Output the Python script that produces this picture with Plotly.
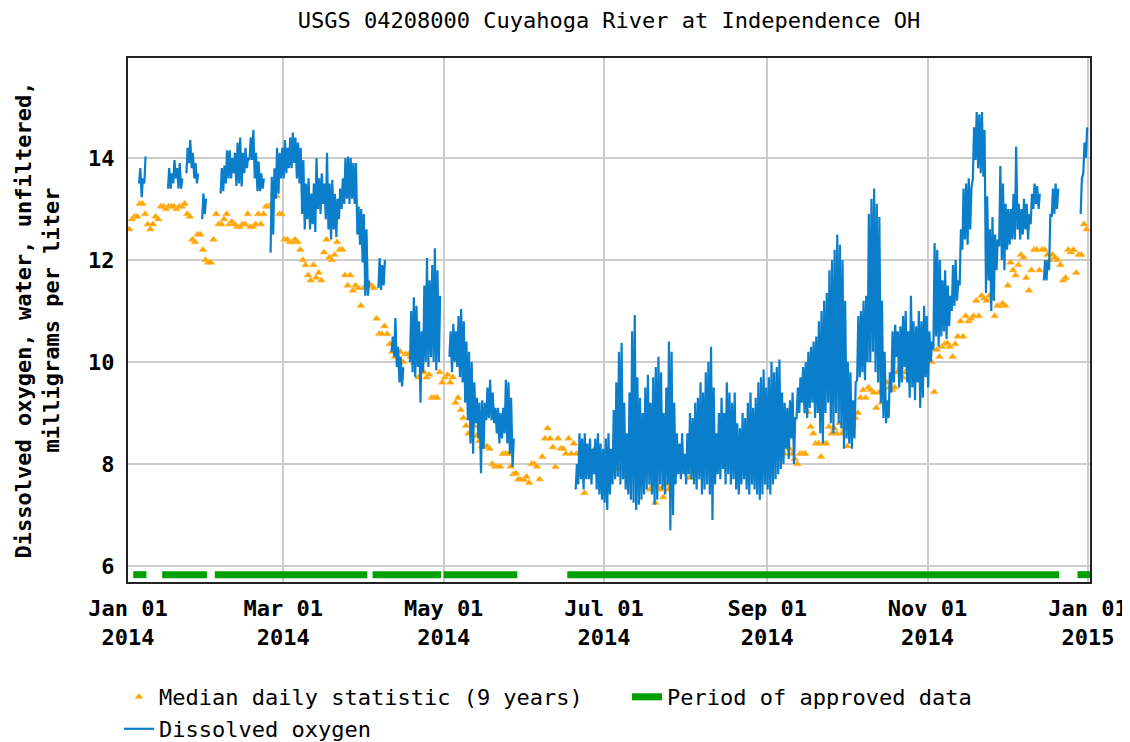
import pandas as pd
import plotly.graph_objects as go

N = None
# ---------------- data ----------------
start_date = "2014-01-01"

# Median daily statistic (9 years), one value per day of 2014
median_daily = [
    12.6, 12.8, 12.85, 12.85, 13.1, 13.1, 12.9, 12.7, 12.6, 12.7,
    12.85, 12.8, 13.05, 13.05, 13.0, 13.05, 13.05, 13.05, 13.0, 13.05,
    13.05, 13.1, 12.9, 12.85, 12.4, 12.35, 12.5, 12.5, 12.2, 12.0,
    11.95, 11.95, 12.4, 12.9, 12.7, 12.7, 12.8, 12.9, 12.7, 12.75,
    12.7, 12.65, 12.65, 12.7, 12.7, 12.9, 12.65, 12.65, 12.7, 12.9,
    12.7, 12.9, 13.05, 13.05, 13.1, 13.3, 13.25, 12.9, 12.9, 12.4,
    12.4, 12.35, 12.35, 12.4, 12.35, 12.2, 12.0, 11.9, 11.7, 11.6,
    11.9, 11.65, 11.75, 11.6, 12.15, 12.4, 12.05, 12.0, 12.1, 12.35,
    12.2, 12.2, 11.7, 11.5, 11.7, 11.4, 11.5, 11.45, 11.1, 11.45,
    11.5, 11.5, 11.5, 11.45, 10.85, 10.55, 10.55, 10.7, 10.55, 10.35,
    10.2, 10.1, 10.1, 10.2, 10.0, 10.15, 10.15, 10.1, 10.0, 10.05,
    9.7, 10.0, 9.8, 9.7, 9.75, 9.3, 9.3, 9.3, 9.8, 9.6,
    9.7, 9.75, 9.6, 9.7, 9.2, 9.3, 9.06, 8.9, 8.75, 8.6,
    8.9, 8.75, 8.55, 8.45, 8.35, 8.33, 8.35, 8.3, 8.0, 7.95,
    7.95, 7.95, 8.2, 8.2, 8.2, 7.95, 7.8, 7.82, 7.7, 7.69,
    7.69, 7.75, 7.63, 8.0, 8.0, 7.95, 7.7, 8.14, 8.5, 8.7,
    8.5, 8.33, 7.94, 8.5, 8.3, 8.3, 8.2, 8.5, 8.2, 8.4,
    8.2, 8.2, 8.2, 7.43, 8.2, 8.2, 8.1, 8.3, 8.2, 7.94,
    8.2, 8.0, 8.2, 8.2, 8.1, 8.0, 7.9, 7.95, 7.82, 7.75,
    7.69, 7.8, 7.75, 7.9, 8.0, 7.95, 8.0, 7.9, 7.5, 7.6,
    7.24, 7.55, 7.5, 7.35, 7.6, 7.5, 7.7, 7.8, 7.95, 7.94,
    8.0, 7.94, 7.9, 7.73, 7.85, 7.9, 8.0, 8.1, 8.0, 8.1,
    8.2, 8.1, 8.3, 8.4, 8.25, 8.12, 8.2, 8.3, 8.2, 8.1,
    8.0, 8.1, 7.95, 8.0, 8.1, 8.2, 8.3, 8.2, 8.3, 8.2,
    8.3, 8.2, 8.35, 8.3, 8.4, 8.3, 8.2, 8.1, 8.3, 8.2,
    8.4, 8.3, 8.2, 8.1, 8.0, 8.2, 8.2, 8.2, 9.02, 8.73,
    8.6, 8.4, 8.4, 8.14, 8.4, 8.4, 8.73, 8.6, 8.7, 8.6,
    8.8, 8.6, 8.7, 8.35, 8.6, 8.8, 8.9, 9.0, 9.3, 9.45,
    9.3, 9.5, 9.45, 9.4, 9.1, 9.4, 9.2, 9.5, 9.6, 9.5,
    9.45, 9.5, 9.8, 9.9, 9.7, 9.8, 9.85, 9.75, 9.8, 9.9,
    10.1, 10.0, 9.9, 10.1, 10.15, 10.0, 9.41, 10.24, 10.1, 10.3,
    10.35, 10.37, 10.3, 10.1, 10.35, 10.5, 10.8, 10.5, 10.9, 10.8,
    10.85, 10.9, 11.2, 10.9, 11.3, 11.25, 11.2, 11.3, 11.25, 10.9,
    11.1, 11.1, 11.15, 11.1, 11.5, 11.95, 11.8, 11.7, 11.9, 12.1,
    12.05, 11.65, 11.4, 11.8, 12.2, 12.2, 11.8, 12.2, 12.2, 12.1,
    12.0, 12.1, 12.05, 12.0, 11.9, 11.6, 11.65, 12.2, 12.15, 12.2,
    11.75, 12.1, 12.1, 12.7, 12.6,
]

# Dissolved oxygen: daily low / daily high of the 15-minute record (None = no data)
do_daily_min = [
    N, N, N, N, 13.5, 13.23, 13.5, N, N, N,
    N, N, N, N, N, 13.4, 13.4, 13.5, 13.6, 13.4,
    13.4, N, 13.7, 13.9, 13.8, 13.6, 13.5, N, 12.8, 12.9,
    N, N, N, N, N, 13.3, 13.35, 13.5, 13.6, 13.6,
    13.7, 13.45, 13.5, 13.44, 13.7, 13.8, 13.96, 13.96, 13.6, 13.35,
    13.35, 13.4, N, N, 12.14, 12.5, 13.2, 13.3, 13.6, 13.6,
    13.7, 13.8, 13.8, 13.9, 13.6, 13.5, 12.9, 12.6, 12.8, 12.6,
    12.7, 12.55, 13.0, 12.9, 13.1, 12.8, 12.6, 12.4, 12.6, 12.45,
    12.8, 13.0, 13.1, 13.2, 13.1, 13.2, 13.1, 12.5, 12.3, 11.95,
    11.3, 11.3, N, N, N, 11.45, 11.41, 11.5, N, N,
    10.2, 10.1, 9.9, 9.6, 9.52, N, N, 10.0, 9.8, 9.7,
    9.9, 9.2, 9.8, 10.0, 9.9, 10.1, 10.0, 9.84, 10.0, N,
    N, N, 10.1, 9.8, 10.0, 9.9, 9.7, 9.6, 9.2, 8.86,
    8.4, 8.2, 8.8, 8.5, 7.82, 8.3, 8.86, 8.9, 8.86, 8.8,
    8.6, 8.4, 8.5, 8.6, 8.4, 8.2, 7.94, N, N, N,
    N, N, N, N, N, N, N, N, N, N,
    N, N, N, N, N, N, N, N, N, N,
    7.5, 7.6, 7.7, 7.5, 7.7, 7.7, 7.6, 7.8, 7.5, 7.4,
    7.3, 7.24, 7.1, 7.4, 7.6, 7.7, 7.75, 7.6, 7.7, 7.5,
    7.4, 7.3, 7.24, 7.1, 7.2, 7.3, 7.4, 7.5, 7.6, 7.4,
    7.2, 7.3, 7.6, 7.5, 7.4, 7.6, 6.7, 7.0, 7.6, 7.8,
    7.7, 7.8, 7.6, 7.8, 7.7, 7.6, 7.5, 7.7, 7.4, 7.5,
    7.6, 7.4, 6.9, 7.6, 7.8, 7.7, 7.9, 7.6, 7.8, 7.6,
    7.7, 7.5, 7.4, 7.6, 7.7, 7.5, 7.4, 7.6, 7.5, 7.4,
    7.3, 7.4, 7.6, 7.5, 7.4, 7.6, 7.7, 7.8, 7.9, 8.0,
    8.3, 8.1, 8.5, 8.0, 8.9, 9.0, 9.2, 9.0, 8.9, 9.1,
    9.2, 8.9, 9.0, 8.6, 8.4, 9.0, 9.2, 8.8, 8.6, 9.0,
    8.8, 8.7, 8.3, 8.5, 8.4, 8.3, 8.5, 9.64, 9.7, 9.8,
    9.64, 10.0, 10.0, 10.2, 9.8, 9.6, 9.2, 8.9, 8.8, 8.9,
    9.4, 9.6, 10.1, 9.5, 9.6, 9.9, 9.6, 9.3, 9.5, 9.25,
    9.6, 9.1, 9.3, 9.7, 9.5, 10.0, 10.24, 10.5, 10.3, 10.5,
    10.6, 10.45, 10.7, 11.0, 11.1, 11.2, 11.5, 12.2, 12.4, 12.3,
    12.6, 13.6, 13.96, 13.8, 13.7, 13.63, 11.35, 11.6, 11.0, 11.2,
    11.8, 12.27, 12.0, 11.8, 12.2, 12.3, 12.4, 12.4, 12.6, 12.4,
    12.5, 12.6, 12.4, 12.7, 13.0, 13.1, 13.0, N, 11.6, 11.6,
    11.8, 12.85, 12.9, 13.0, N, N, N, N, N, N,
    N, N, 12.9, 13.7, 14.0,
]
do_daily_max = [
    N, N, N, N, 13.8, 13.6, 14.03, N, N, N,
    N, N, N, N, N, 13.8, 13.7, 13.96, 13.8, 13.9,
    13.6, N, 14.2, 14.35, 14.1, 13.9, 13.7, N, 13.3, 13.2,
    N, N, N, N, N, 13.8, 13.85, 14.15, 14.15, 14.0,
    14.1, 14.3, 14.4, 14.1, 14.2, 14.0, 14.4, 14.55, 14.1, 13.93,
    13.7, 13.6, N, N, 13.63, 13.8, 14.2, 14.1, 14.2, 14.35,
    14.2, 14.4, 14.5, 14.4, 14.3, 14.2, 13.96, 13.5, 13.6, 13.3,
    13.5, 14.0, 13.6, 13.7, 13.5, 14.1, 13.5, 13.57, 13.3, 13.2,
    13.4, 13.6, 14.0, 14.03, 14.0, 13.9, 13.9, 13.05, 13.0, 12.9,
    12.6, 11.6, N, N, N, 12.04, 11.9, 12.0, N, N,
    10.5, 10.86, 10.3, 10.1, 9.9, N, N, 11.0, 11.27, 11.1,
    10.8, 10.6, 11.5, 12.04, 11.6, 11.9, 12.23, 11.8, 11.3, N,
    N, N, 10.6, 10.75, 10.6, 10.9, 11.04, 10.8, 10.4, 10.2,
    10.0, 9.6, 9.3, 9.2, 9.25, 9.2, 9.5, 9.65, 9.4, 9.1,
    9.1, 9.0, 9.1, 9.65, 9.6, 9.3, 8.5, N, N, N,
    N, N, N, N, N, N, N, N, N, N,
    N, N, N, N, N, N, N, N, N, N,
    8.0, 8.6, 8.5, 8.6, 8.4, 8.5, 8.3, 8.5, 8.6, 8.4,
    8.3, 8.5, 8.6, 8.3, 9.06, 9.6, 10.2, 10.37, 9.2, 8.6,
    9.4, 10.6, 10.92, 9.7, 9.3, 9.0, 9.5, 9.75, 9.2, 9.7,
    9.9, 10.1, 9.8, 9.0, 9.5, 10.4, 10.2, 9.2, 8.6, 8.4,
    8.6, 8.2, 8.6, 9.0, 8.9, 9.2, 9.3, 9.6, 9.4, 9.8,
    10.0, 10.3, 9.5, 8.6, 9.0, 9.3, 9.0, 9.6, 9.4, 9.2,
    9.4, 8.8, 8.7, 9.0, 8.9, 9.2, 9.4, 9.1, 9.3, 9.6,
    9.7, 9.85, 9.5, 9.7, 10.0, 9.8, 9.9, 10.05, 9.4, 9.2,
    9.1, 9.25, 9.4, 8.9, 9.5, 9.7, 9.9, 10.0, 10.2, 10.3,
    10.4, 10.5, 10.8, 11.0, 11.2, 11.35, 11.8, 12.0, 12.2, 12.5,
    12.3, 12.0, 11.2, 10.0, 9.8, 9.25, 9.6, 10.9, 11.0, 11.2,
    11.3, 12.9, 13.2, 13.4, 13.1, 12.84, 11.2, 10.2, 9.25, 9.8,
    10.6, 10.73, 10.6, 10.7, 10.9, 11.0, 10.6, 11.3, 10.8, 10.7,
    11.0, 10.8, 11.1, 10.9, 10.6, 10.4, 12.33, 12.2, 12.0, 11.6,
    11.8, 11.5, 11.3, 11.9, 12.0, 11.6, 12.6, 13.4, 13.5, 13.6,
    13.4, 14.6, 14.9, 14.85, 14.9, 14.55, 13.25, 12.6, 12.84, 12.5,
    12.4, 13.84, 13.5, 13.1, 13.0, 13.0, 13.3, 14.22, 13.1, 13.0,
    13.2, 13.1, 12.9, 13.3, 13.5, 13.45, 13.3, N, 12.0, 12.0,
    12.9, 13.4, 13.5, 13.4, N, N, N, N, N, N,
    N, N, 13.6, 14.3, 14.6,
]

# Period of approved data
approved_start = ["2014-01-03", "2014-01-14", "2014-02-03", "2014-04-04",
                  "2014-05-01", "2014-06-17", "2014-12-28"]
approved_end = ["2014-01-08", "2014-01-31", "2014-04-02", "2014-04-30",
                "2014-05-29", "2014-12-21", "2015-01-02"]
approved_level = 5.83

tick_dates = ["2014-01-01", "2014-03-01", "2014-05-01", "2014-07-01",
              "2014-09-01", "2014-11-01", "2015-01-01"]
tick_labels = ["Jan 01<br>2014", "Mar 01<br>2014", "May 01<br>2014", "Jul 01<br>2014",
               "Sep 01<br>2014", "Nov 01<br>2014", "Jan 01<br>2015"]
y_ticks = [6, 8, 10, 12, 14]

# ---------------- build traces ----------------
days = pd.date_range(start_date, periods=len(median_daily), freq="D")
med_x = [d + pd.Timedelta(hours=12) for d in days]

do_x, do_y = [], []
for d, lo, hi in zip(days, do_daily_min, do_daily_max):
    if lo is None or hi is None:
        do_x.append(d + pd.Timedelta(hours=12))
        do_y.append(None)
    else:
        do_x += [d + pd.Timedelta(hours=5), d + pd.Timedelta(hours=16)]
        do_y += [lo, hi]

ap_x, ap_y = [], []
for s, e in zip(approved_start, approved_end):
    ap_x += [pd.Timestamp(s), pd.Timestamp(e), pd.Timestamp(e)]
    ap_y += [approved_level, approved_level, None]

MONO = "DejaVu Sans Mono"
fig = go.Figure()
fig.add_trace(go.Scatter(
    x=med_x, y=median_daily, mode="markers", name="Median daily statistic (9 years)",
    marker=dict(symbol="triangle-up", size=7, color="#FFA200",
                line=dict(color="#FFC860", width=0.6)),
    legend="legend"))
fig.add_trace(go.Scatter(
    x=do_x, y=do_y, mode="lines", name="Dissolved oxygen",
    line=dict(color="#0A7DCB", width=2.2), legend="legend3", connectgaps=False))
fig.add_trace(go.Scatter(
    x=ap_x, y=ap_y, mode="lines", name="Period of approved data",
    line=dict(color="#00A000", width=7), legend="legend2"))

# The page adds an 8 px body margin; the figure fills the rest of the window.
OFF = 8
W, H = 1130 - OFF, 742 - OFF
L, T = 128 - OFF, 58 - OFF
R = W - (1090 - OFF)
B = H - (582 - OFF)
pw, ph = W - L - R, H - T - B

def px_x(p):
    return (p - OFF - L) / pw

def px_y(p):
    return (H - B - (p - OFF)) / ph

leg_common = dict(orientation="h", xanchor="left", yanchor="middle",
                  bgcolor="rgba(0,0,0,0)", borderwidth=0,
                  font=dict(family=MONO, size=22, color="#000"))

fig.update_layout(
    width=W, height=H,
    margin=dict(l=L, r=R, t=T, b=B, autoexpand=False),
    paper_bgcolor="white", plot_bgcolor="white",
    title=dict(text="USGS 04208000 Cuyahoga River at Independence OH",
               font=dict(family=MONO, size=22, color="#000"),
               x=0.5, xref="paper", xanchor="center",
               y=1 - (20 - OFF) / H, yref="container", yanchor="middle"),
    showlegend=True,
    legend=dict(x=px_x(119), y=px_y(697), **leg_common),
    legend2=dict(x=px_x(627), y=px_y(697), **leg_common),
    legend3=dict(x=px_x(119), y=px_y(729), **leg_common),
    xaxis=dict(
        type="date",
        range=["2014-01-01", "2015-01-01 18:00"],
        tickvals=tick_dates, ticktext=tick_labels,
        tickfont=dict(family=MONO, size=22, color="#000", weight="bold"),
        ticks="outside", ticklen=6, tickcolor="rgba(0,0,0,0)",
        ticklabeloverflow="allow",
        showgrid=True, gridcolor="#CCCCCC", gridwidth=2,
        showline=True, linecolor="#222", linewidth=2, mirror=True,
        zeroline=False,
    ),
    yaxis=dict(
        range=[5.686, 15.96],
        tickvals=y_ticks,
        tickfont=dict(family=MONO, size=22, color="#000", weight="bold"),
        ticks="outside", ticklen=7, tickcolor="rgba(0,0,0,0)",
        showgrid=True, gridcolor="#CCCCCC", gridwidth=2,
        showline=True, linecolor="#222", linewidth=2, mirror=True,
        zeroline=False,
        title=dict(text="Dissolved oxygen, water, unfiltered,<br>milligrams per liter",
                   font=dict(family=MONO, size=22, color="#000", weight="bold"),
                   standoff=22),
        automargin=False,
    ),
)

fig.write_html("out.html")
